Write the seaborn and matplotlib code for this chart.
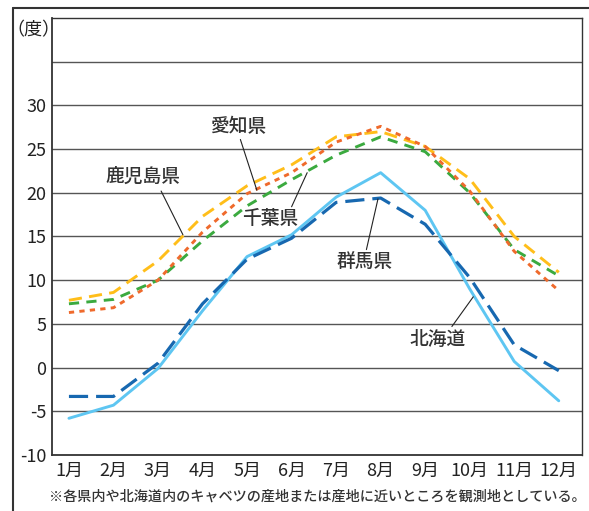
import pandas as pd
import seaborn as sns
import matplotlib.pyplot as plt
from matplotlib.lines import Line2D

# Monthly mean temperature of cabbage producing areas
months = list(range(1, 13))
month_labels = [f"{m}月" for m in months]
hokkaido = [-5.8, -4.3, -0.1, 6.5, 12.7, 15.2, 19.5, 22.3, 18.0, 9.0, 0.7, -3.8]
gunma = [-3.3, -3.3, 0.5, 7.3, 12.4, 14.8, 18.9, 19.4, 16.4, 10.3, 2.6, -0.35]
kagoshima = [7.7, 8.6, 12.2, 17.3, 20.8, 23.2, 26.4, 27.0, 25.3, 21.6, 15.0, 10.9]
aichi = [6.3, 6.85, 10.0, 15.5, 19.9, 22.3, 25.8, 27.6, 25.3, 20.2, 13.3, 8.8]
chiba = [7.3, 7.8, 10.0, 14.5, 18.5, 21.5, 24.3, 26.4, 24.7, 20.0, 13.5, 10.5]
yticks = [-10, -5, 0, 5, 10, 15, 20, 25, 30]
footnote = "※各県内や北海道内のキャベツの産地または産地に近いところを観測地としている。"

sns.set_style("white")
plt.rcParams['font.family'] = ['Noto Sans CJK JP', 'DejaVu Sans']

fig = plt.figure(figsize=(5.89, 5.11), dpi=100)
ax = fig.add_axes([0.0883, 0.1096, 0.8997, 0.8552])

# Grid lines (35 has a line but no label)
for v in yticks[1:] + [35]:
    ax.axhline(v, color="#555555", lw=1.0, zorder=0)

# Series: name, values, colour, dash pattern, width
series = [
    ("北海道", hokkaido, "#5EC6F2", "-", 2.1),
    ("群馬県", gunma, "#1768B0", (0, (6, 2.5)), 2.3),
    ("鹿児島県", kagoshima, "#FFBE1A", (0, (4.5, 2.5)), 2.1),
    ("千葉県", chiba, "#3BAA3F", (0, (3.5, 2.5)), 2.1),
    ("愛知県", aichi, "#EF6A2C", (0, (1.8, 1.8)), 2.1),
]
for name, vals, col, ls, lw in series:
    sns.lineplot(x=months, y=vals, color=col, linestyle=ls, lw=lw, ax=ax)

# Labels with leader lines
labels = [
    ("愛知県", (4.80, 27.6), (5.22, 20.3), (4.85, 26.1)),
    ("鹿児島県", (2.66, 21.9), (3.56, 15.2), (3.07, 20.2)),
    ("千葉県", (5.52, 17.1), (6.35, 22.3), (6.0, 18.4)),
    ("群馬県", (7.65, 12.1), (7.94, 19.3), (7.68, 13.5)),
    ("北海道", (9.27, 3.2), (10.08, 8.1), (9.6, 4.7)),
]
for txt, pos, end, start in labels:
    ax.plot([start[0], end[0]], [start[1], end[1]], color="#222222", lw=0.8)
    ax.text(pos[0], pos[1], txt, ha="center", va="center", fontsize=13.5,
            fontweight="medium", color="#333333")

ax.set_xlim(0.62, 12.52)
ax.set_ylim(-10, 40)
ax.set_xticks(months)
ax.set_xticklabels(month_labels, fontsize=13, color="#222222")
ax.set_yticks(yticks)
ax.set_yticklabels([str(v) for v in yticks], fontsize=13, color="#222222")
ax.tick_params(axis="x", direction="in", length=5, width=1, color="#333333", pad=5)
ax.tick_params(axis="y", length=0, pad=4)
ax.set_xlabel("")
ax.set_ylabel("")
for s in ax.spines.values():
    s.set_visible(True)
    s.set_color("#333333")
    s.set_linewidth(1.0)
ax.spines["bottom"].set_linewidth(1.3)
ax.spines["left"].set_linewidth(1.3)

# Unit label and footnote
fig.text(33 / 589, 1 - 30 / 511, "（度）", ha="center", va="center", fontsize=13, color="#222222")
fig.text(317 / 589, 1 - 497 / 511, footnote, ha="center", va="center", fontsize=10.2,
         fontweight="medium", color="#333333")

# Outer frame (left and top edges)
fig.add_artist(Line2D([13 / 589, 13 / 589], [0, 1 - 8 / 511], transform=fig.transFigure,
                      color="#333333", lw=1.5))
fig.add_artist(Line2D([13 / 589, 1], [1 - 8 / 511, 1 - 8 / 511], transform=fig.transFigure,
                      color="#333333", lw=1.5))

fig.savefig("out.png", dpi=100)
